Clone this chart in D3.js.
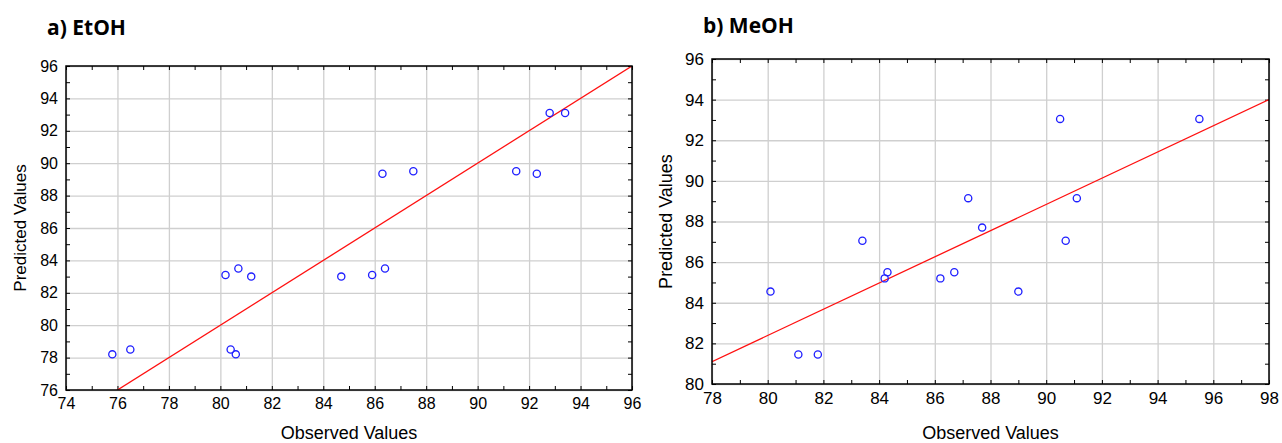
<!DOCTYPE html>
<html>
<head>
<meta charset="utf-8">
<script src="https://cdn.jsdelivr.net/npm/d3@7"></script>
<style>
  body { margin: 0; background: #fff; }
  svg { display: block; }
</style>
</head>
<body>
<script>
// a) EtOH : observed vs predicted
let etohObserved  = [75.8, 76.5, 80.2, 80.7, 81.2, 80.4, 80.6, 84.7, 85.9, 86.4, 86.3, 87.5, 91.5, 92.3, 92.8, 93.4]
let etohPredicted = [78.2, 78.5, 83.1, 83.5, 83.0, 78.5, 78.2, 83.0, 83.1, 83.5, 89.35, 89.5, 89.5, 89.35, 93.1, 93.1]
let etohFit = [[74, 74], [96, 96]]
let etohXTicks = [74, 76, 78, 80, 82, 84, 86, 88, 90, 92, 94, 96]
let etohYTicks = [76, 78, 80, 82, 84, 86, 88, 90, 92, 94, 96]

// b) MeOH
let meohObserved  = [80.1, 81.1, 81.8, 83.4, 84.2, 84.3, 86.2, 86.7, 87.2, 87.7, 89.0, 90.5, 90.7, 91.1, 95.5]
let meohPredicted = [84.55, 81.45, 81.45, 87.05, 85.2, 85.5, 85.2, 85.5, 89.15, 87.7, 84.55, 93.05, 87.05, 89.15, 93.05]
let meohFit = [[78, 81.1], [98, 94.0]]
let meohXTicks = [78, 80, 82, 84, 86, 88, 90, 92, 94, 96, 98]
let meohYTicks = [80, 82, 84, 86, 88, 90, 92, 94, 96]

let width = 1282
let height = 443

let svg = d3
  .select('body')
  .append('svg')
  .attr('width', width)
  .attr('height', height)

drawPanel({
  id: 'etoh', title: 'a) EtOH', titleX: 47, titleY: 35,
  left: 66, top: 66, right: 632, bottom: 390,
  obs: etohObserved, pred: etohPredicted, fit: etohFit,
  xTicks: etohXTicks, yTicks: etohYTicks,
  tickFont: 16, yTitleX: 26, yTitleFont: 17
})

drawPanel({
  id: 'meoh', title: 'b) MeOH', titleX: 703, titleY: 33,
  left: 712, top: 59, right: 1269, bottom: 384,
  obs: meohObserved, pred: meohPredicted, fit: meohFit,
  xTicks: meohXTicks, yTicks: meohYTicks,
  tickFont: 17, yTitleX: 672, yTitleFont: 18
})

function drawPanel(p) {
  let w = p.right - p.left
  let h = p.bottom - p.top
  let xDom = d3.extent(p.xTicks)
  let yDom = d3.extent(p.yTicks)

  let scaleX = d3.scaleLinear().domain(xDom).range([0, w])
  let scaleY = d3.scaleLinear().domain(yDom).range([h, 0])
  let minorX = d3.range(xDom[0], xDom[1] + 0.5, 1)
  let minorY = d3.range(yDom[0], yDom[1] + 0.5, 1)

  // title
  svg.append('text')
    .attr('x', p.titleX)
    .attr('y', p.titleY)
    .attr('font-family', 'Open Sans, sans-serif')
    .attr('font-weight', 'bold')
    .attr('font-size', 21)
    .attr('fill', '#000')
    .text(p.title)

  let g = svg.append('g').attr('transform', 'translate(' + p.left + ',' + p.top + ')')

  // grid
  g.append('g')
    .attr('class', 'grid')
    .attr('transform', 'translate(0,' + h + ')')
    .call(d3.axisBottom(scaleX).tickValues(p.xTicks).tickSize(-h).tickFormat(''))
  g.append('g')
    .attr('class', 'grid')
    .call(d3.axisLeft(scaleY).tickValues(p.yTicks).tickSize(-w).tickFormat(''))
  g.selectAll('.grid .domain').remove()
  g.selectAll('.grid line').attr('stroke', '#cfcfcf').attr('stroke-width', 1.3)

  // inward ticks on all sides
  let tickLen = 4
  g.append('g').attr('class', 'mt').attr('transform', 'translate(0,' + h + ')')
    .call(d3.axisBottom(scaleX).tickValues(minorX).tickSize(-tickLen).tickFormat(''))
  g.append('g').attr('class', 'mt')
    .call(d3.axisTop(scaleX).tickValues(minorX).tickSize(-tickLen).tickFormat(''))
  g.append('g').attr('class', 'mt')
    .call(d3.axisLeft(scaleY).tickValues(minorY).tickSize(-tickLen).tickFormat(''))
  g.append('g').attr('class', 'mt').attr('transform', 'translate(' + w + ',0)')
    .call(d3.axisRight(scaleY).tickValues(minorY).tickSize(-tickLen).tickFormat(''))
  g.selectAll('.mt .domain').remove()
  g.selectAll('.mt line').attr('stroke', '#000').attr('stroke-width', 1)

  // tick labels
  let xAxis = g.append('g').attr('transform', 'translate(0,' + h + ')')
    .call(d3.axisBottom(scaleX).tickValues(p.xTicks).tickSize(0).tickPadding(8).tickFormat(d3.format('d')))
  let yAxis = g.append('g')
    .call(d3.axisLeft(scaleY).tickValues(p.yTicks).tickSize(0).tickPadding(8).tickFormat(d3.format('d')))
  xAxis.select('.domain').remove()
  yAxis.select('.domain').remove()
  g.selectAll('.tick text')
    .attr('font-family', 'Liberation Sans, Arial, sans-serif')
    .attr('font-size', p.tickFont)
    .attr('fill', '#000')

  // clip + fit line
  g.append('clipPath').attr('id', 'clip-' + p.id)
    .append('rect').attr('width', w).attr('height', h)

  g.append('path')
    .datum(p.fit)
    .attr('clip-path', 'url(#clip-' + p.id + ')')
    .attr('fill', 'none')
    .attr('stroke', '#ff1010')
    .attr('stroke-width', 1.3)
    .attr('d', d3.line().x(d => scaleX(d[0])).y(d => scaleY(d[1])))

  // points
  g.selectAll('circle.pt')
    .data(p.obs)
    .enter()
    .append('circle')
    .attr('class', 'pt')
    .attr('cx', d => scaleX(d))
    .attr('cy', (d, i) => scaleY(p.pred[i]))
    .attr('r', 3.6)
    .attr('fill', 'none')
    .attr('stroke', '#1f1fff')
    .attr('stroke-width', 1.3)

  // frame
  g.append('rect')
    .attr('width', w)
    .attr('height', h)
    .attr('fill', 'none')
    .attr('stroke', '#000')
    .attr('stroke-width', 1.5)

  // axis titles
  svg.append('text')
    .attr('x', p.left + w / 2)
    .attr('y', 439)
    .attr('text-anchor', 'middle')
    .attr('font-family', 'Liberation Sans, Arial, sans-serif')
    .attr('font-size', 18)
    .attr('fill', '#000')
    .text('Observed Values')

  svg.append('text')
    .attr('transform', 'translate(' + p.yTitleX + ',' + (p.top + h / 2) + ') rotate(-90)')
    .attr('text-anchor', 'middle')
    .attr('font-family', 'Liberation Sans, Arial, sans-serif')
    .attr('font-size', p.yTitleFont)
    .attr('fill', '#000')
    .text('Predicted Values')
}
</script>
</body>
</html>
